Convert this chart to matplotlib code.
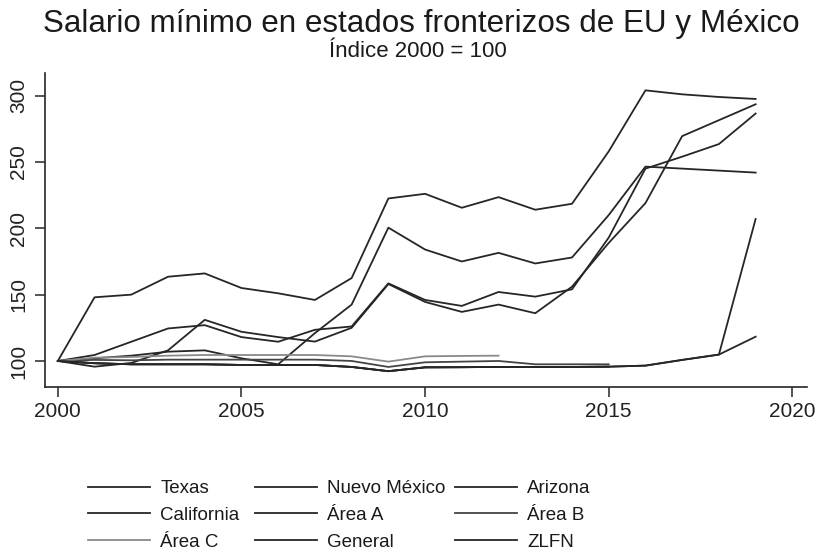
import matplotlib.pyplot as plt

# Índice 2000 = 100
years = list(range(2000, 2020))

california = [100, 148, 150, 163.5, 166, 155, 151, 146, 162.5, 222.5,
              226, 215.5, 223.5, 214, 218.5, 258, 304, 301, 299, 297.5]
texas = [100, 102, 104, 107, 108, 102, 97.5, 121, 142.5, 200.5,
         184, 175, 181.5, 173.5, 178, 210, 246.5, 245, 243.5, 242]
arizona = [100, 104.5, 114.5, 124.5, 127, 118, 114.5, 123.5, 126, 158.5,
           146, 141.5, 152, 148.5, 154, 193, 245, 254, 263.5, 286.5]
nuevo_mexico = [100, 95.7, 98.5, 108, 131, 122, 118, 114.6, 125, 158,
                144.5, 137, 142.5, 136, 156, 189, 219, 269.5, 281.5, 293.5]

years_c = list(range(2000, 2013))
area_c = [100, 102.5, 103, 104, 104.5, 104.5, 104.5, 104.5, 103.5, 99.5,
          103.5, 103.8, 104]
years_ab = list(range(2000, 2016))
area_b = [100, 100.8, 100.5, 101, 101, 101, 101, 101, 100, 95.5,
          99, 99.5, 100, 97.5, 97.5, 97.5]
area_a = [100, 98.3, 97.5, 97.5, 97.5, 97, 97, 97, 95.5, 92.3,
          95.2, 95.3, 95.5, 95.5, 95.5, 95.7]
general = [100, 98.3, 97.5, 97.5, 97.5, 97, 97, 97, 95.5, 92.3,
           95.2, 95.3, 95.5, 95.5, 95.5, 95.7, 96.5, 100.8, 104.8, 118.3]
zlfn = [100, 98.3, 97.5, 97.5, 97.5, 97, 97, 97, 95.5, 92.3,
        95.2, 95.3, 95.5, 95.5, 95.5, 95.7, 96.5, 100.8, 104.8, 207]

plt.rcParams['font.family'] = ['Liberation Sans', 'DejaVu Sans']

fig = plt.figure(figsize=(8.18, 5.58), dpi=100)
ax = fig.add_axes([0.055, 0.3065, 0.9316, 0.5625])

ink = '#262626'
lw = 1.3
series = [
    ('Texas', years, texas, ink),
    ('Nuevo México', years, nuevo_mexico, ink),
    ('Arizona', years, arizona, ink),
    ('California', years, california, ink),
    ('Área A', years_ab, area_a, ink),
    ('Área B', years_ab, area_b, '#444444'),
    ('Área C', years_c, area_c, '#8a8a8a'),
    ('General', years, general, ink),
    ('ZLFN', years, zlfn, ink),
]
handles = {}
for name, x, y, col in series:
    line, = ax.plot(x, y, color=col, lw=lw)
    handles[name] = line

ax.set_xlim(1999.65, 2020.4)
ax.set_ylim(80.4, 317)
ax.set_xticks([2000, 2005, 2010, 2015, 2020])
ax.set_yticks([100, 150, 200, 250, 300])
ax.tick_params(axis='both', labelsize=15, length=7, width=1.1, color=ink, labelcolor='#222222')
ax.tick_params(axis='y', labelrotation=90, pad=5)
for lab in ax.get_yticklabels():
    lab.set_va('center')
for s in ['top', 'right']:
    ax.spines[s].set_visible(False)
for s in ['left', 'bottom']:
    ax.spines[s].set_color(ink)
    ax.spines[s].set_linewidth(1.2)

fig.text(0.515, 1 - 32 / 558, 'Salario mínimo en estados fronterizos de EU y México',
         ha='center', va='baseline', fontsize=22.6, color='#1a1a1a')
fig.text(0.511, 1 - 57 / 558, 'Índice 2000 = 100',
         ha='center', va='baseline', fontsize=16, color='#1a1a1a')

# una leyenda por columna para fijar su posición
columns = [(88, ['Texas', 'California', 'Área C']),
           (255, ['Nuevo México', 'Área A', 'General']),
           (455, ['Arizona', 'Área B', 'ZLFN'])]
for xpix, names in columns:
    leg = fig.legend([handles[n] for n in names], names, frameon=False,
                     loc='upper left', bbox_to_anchor=(xpix / 818, 1 - 480 / 558),
                     prop={'size': 13.5}, handlelength=3.3, handletextpad=0.55,
                     labelspacing=0.52, borderpad=0, borderaxespad=0)
    for t in leg.get_texts():
        t.set_color('#1a1a1a')

fig.savefig('out.png', dpi=100)
